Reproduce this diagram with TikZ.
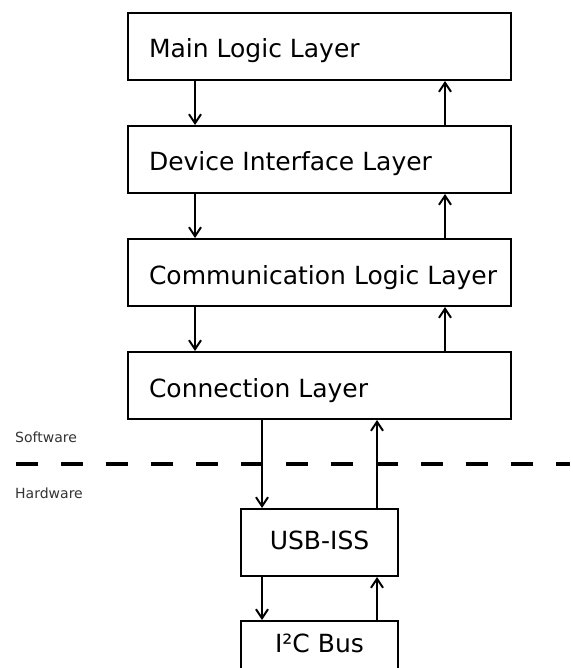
\documentclass[tikz,border=0pt]{standalone}
\usepackage{fontspec}
\setmainfont{DejaVu Sans}
\usetikzlibrary{positioning,arrows.meta}

\newcommand{\laytext}[1]{\makebox[341pt][l]{#1}}

\begin{document}
\begin{tikzpicture}[
  x=1pt, y=1pt,
  node distance=44pt,
  layer/.style={draw,line width=2pt,minimum width=383pt,minimum height=67pt,
                inner xsep=21pt,text height=23pt,text depth=0pt,
                font=\fontsize{25}{30}\selectfont},
  hwbox/.style={draw,line width=2pt,minimum width=157pt,minimum height=67pt,
                text height=14pt,text depth=0pt,font=\fontsize{25}{30}\selectfont},
  flow/.style={line width=2pt,-{Straight Barb[length=9pt,width=12pt,line width=2pt]}},
  side/.style={font=\fontsize{14}{16}\selectfont,text=black!80,anchor=west,inner sep=0pt},
]
\useasboundingbox (0,0) rectangle (570,-668);
% software stack
\node[layer] (main) at (319.5,-46.5) {\laytext{Main Logic Layer}};
\node[layer,below=of main] (device) {\laytext{Device Interface Layer}};
\node[layer,below=of device] (comm) {\laytext{Communication Logic Layer}};
\node[layer,below=of comm] (conn) {\laytext{Connection Layer}};
% hardware
\node[hwbox,below=88pt of conn] (usb) {USB-ISS};
\node[hwbox,below=43pt of usb,minimum height=48pt] (bus) {I²C Bus};
% software / hardware split
\node[side] (sw) at (15,-437) {Software};
\node[side] (hw) at (15,-493) {Hardware};
\coordinate (splitL) at (16,-464);
\coordinate (splitR) at (570,-464);
\draw[line width=4.5pt,dash pattern=on 22pt off 23pt] (splitL) -- (splitR);
% down / up arrows
\foreach \a/\b in {main/device,device/comm,comm/conn}{
  \draw[flow] ([xshift=68pt]\a.south west) -- ([xshift=68pt]\b.north west);
  \draw[flow] ([xshift=-67pt]\b.north east) -- ([xshift=-67pt]\a.south east);
}
\draw[flow] ([xshift=22pt]usb.north west |- conn.south) -- ([xshift=22pt]usb.north west);
\draw[flow] ([xshift=-22pt]usb.north east) -- ([xshift=-22pt]usb.north east |- conn.south);
\draw[flow] ([xshift=22pt]usb.south west) -- ([xshift=22pt]bus.north west);
\draw[flow] ([xshift=-22pt]bus.north east) -- ([xshift=-22pt]usb.south east);
\end{tikzpicture}
\end{document}
